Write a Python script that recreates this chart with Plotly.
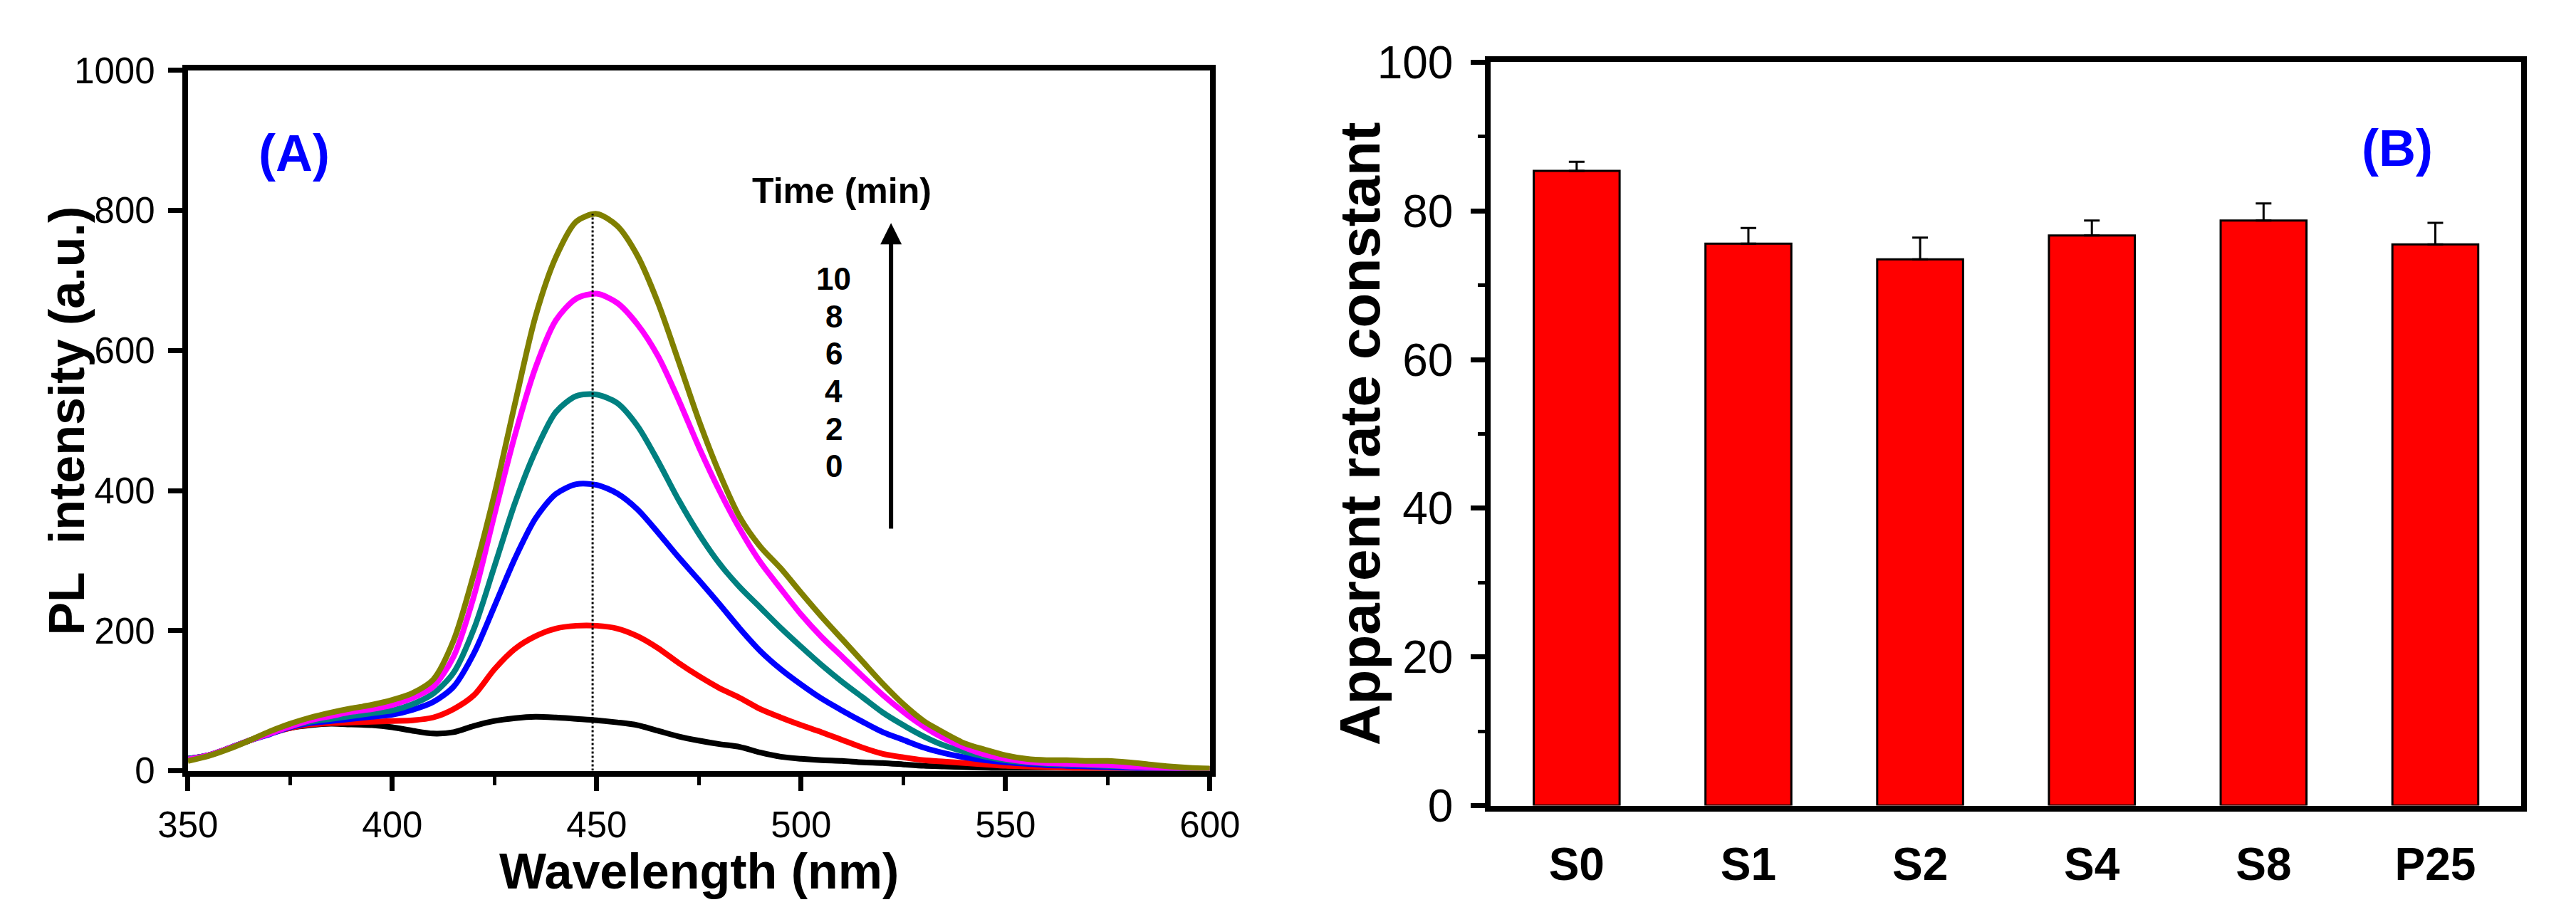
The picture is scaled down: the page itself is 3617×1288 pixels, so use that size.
import plotly.graph_objects as go

# ---- panel A: PL spectra at different irradiation times ----
wavelength = [350, 355, 360, 365, 370, 375, 380, 385, 390, 395, 400, 405, 410, 415, 420,
              425, 430, 435, 440, 445, 450, 455, 460, 465, 470, 475, 480, 485, 490, 495,
              500, 505, 510, 515, 520, 525, 530, 535, 540, 545, 550, 555, 560, 565, 570,
              575, 580, 585, 590, 595, 600]

pl_0min = [17, 22, 32, 43, 54, 61, 65, 67, 66, 65, 62, 57, 53, 55, 64, 71, 75, 77, 76, 74,
           72, 69, 65, 57, 49, 43, 38, 34, 26, 20, 17, 15, 14, 12, 11, 9, 7, 6, 5, 4,
           3, 3, 2, 2, 2, 2, 2, 1, 1, 1, 1]
pl_2min = [17, 22, 32, 43, 53, 61, 66, 68, 69, 70, 71, 72, 76, 88, 108, 145, 174, 192, 203, 207,
           207, 203, 192, 175, 154, 135, 118, 104, 88, 76, 65, 55, 44, 33, 24, 19, 15, 13, 11, 9,
           7, 6, 5, 4, 3, 3, 2, 2, 1, 1, 1]
pl_4min = [17, 22, 32, 43, 52, 62, 68, 71, 74, 77, 80, 87, 98, 120, 168, 235, 303, 360, 395, 409,
           408, 396, 373, 340, 305, 272, 238, 203, 171, 145, 123, 103, 86, 70, 55, 44, 33, 25, 19, 15,
           12, 10, 8, 7, 6, 5, 4, 3, 2, 2, 1]
pl_6min = [17, 22, 32, 43, 53, 63, 70, 74, 78, 82, 86, 95, 110, 140, 203, 292, 382, 456, 512, 535,
           537, 525, 492, 442, 387, 338, 296, 262, 233, 204, 177, 151, 127, 105, 83, 65, 49, 36, 27, 20,
           15, 12, 10, 9, 8, 7, 6, 5, 4, 3, 2]
pl_8min = [16, 22, 32, 43, 53, 63, 72, 78, 84, 88, 94, 104, 120, 163, 250, 366, 479, 575, 643, 674,
           681, 668, 637, 592, 530, 462, 400, 345, 298, 260, 223, 191, 163, 135, 108, 84, 63, 46, 33, 23,
           17, 13, 11, 10, 9, 8, 6, 5, 4, 3, 2]
pl_10min = [14, 21, 31, 43, 56, 67, 76, 83, 89, 94, 101, 111, 130, 186, 282, 395, 524, 648, 733, 784,
            795, 778, 735, 668, 585, 500, 425, 362, 320, 289, 254, 220, 188, 156, 124, 95, 71, 54, 39, 30,
            22, 17, 15, 15, 14, 14, 12, 9, 6, 4, 3]

spectra = [pl_0min, pl_2min, pl_4min, pl_6min, pl_8min, pl_10min]
spectra_colors = ["#000000", "#FF0000", "#0000FF", "#008080", "#FF00FF", "#808000"]
time_labels = ["10", "8", "6", "4", "2", "0"]
peak_wavelength = 449

# ---- panel B: apparent rate constants ----
samples = ["S0", "S1", "S2", "S4", "S8", "P25"]
rate_constant = [85.4, 75.6, 73.5, 76.7, 78.7, 75.5]
rate_error = [1.2, 2.1, 2.9, 2.0, 2.3, 2.9]

W, H = 3617, 1288
FONT = "Liberation Sans, Arial, sans-serif"
NARROW = "Liberation Sans Narrow, Arial Narrow, Liberation Sans, sans-serif"

fig = go.Figure()

for ys, col in zip(spectra, spectra_colors):
    fig.add_trace(go.Scatter(x=wavelength, y=ys, mode="lines",
                             line=dict(color=col, width=8, shape="spline", smoothing=0.8),
                             showlegend=False, xaxis="x", yaxis="y"))

# dotted marker at the emission maximum
fig.add_trace(go.Scatter(x=[peak_wavelength, peak_wavelength], y=[0, max(pl_10min)],
                         mode="lines", line=dict(color="black", width=3, dash="dot"),
                         showlegend=False, xaxis="x", yaxis="y"))

fig.add_trace(go.Bar(x=samples, y=rate_constant, width=0.5,
                     marker=dict(color="#FF0000", line=dict(color="black", width=3)),
                     error_y=dict(type="data", array=rate_error, arrayminus=[0] * len(rate_error),
                                  symmetric=False, color="black", thickness=3, width=11),
                     showlegend=False, xaxis="x2", yaxis="y2"))

axis_common = dict(showline=True, linecolor="black", linewidth=8, mirror=True,
                   showgrid=False, zeroline=False, ticks="outside", ticklen=20,
                   tickwidth=7, tickcolor="black")

fig.update_layout(
    width=W, height=H,
    margin=dict(l=0, r=0, t=0, b=0),
    paper_bgcolor="white", plot_bgcolor="white",
    xaxis=dict(domain=[218 / W, 1688 / W], anchor="y", range=[350, 600], dtick=50,
               tick0=350, tickfont=dict(family=FONT, size=51, color="black"),
               ticklabelstandoff=4,
               minor=dict(dtick=25, ticks="outside", ticklen=12, tickwidth=5, tickcolor="black"),
               **axis_common),
    yaxis=dict(domain=[1 - 1100 / H, 1 - 58 / H], anchor="x", range=[0, 1000], dtick=200,
               tickfont=dict(family=FONT, size=51, color="black"), ticklabelstandoff=8,
               **axis_common),
    xaxis2=dict(domain=[2092 / W, 3574 / W], anchor="y2", range=[-0.5, 5.5],
                type="category", tickfont=dict(family=NARROW, size=64, color="black", weight="bold"),
                showline=True, linecolor="black", linewidth=8, mirror=True, showgrid=False,
                zeroline=False, ticks="", ticklabelstandoff=20),
    yaxis2=dict(domain=[1 - 1152 / H, 1 - 46 / H], anchor="x2", range=[0, 100], dtick=20,
                tickfont=dict(family=FONT, size=64, color="black"), ticklabelstandoff=12,
                minor=dict(dtick=10, ticks="outside", ticklen=10, tickwidth=5, tickcolor="black"),
                **axis_common),
)

annotations = [
    dict(text="PL\u00a0\u00a0intensity (a.u.)", x=44 / W, y=1 - 579 / H, xref="paper", yref="paper",
         textangle=-90, showarrow=False, xanchor="center", yanchor="middle",
         font=dict(family=FONT, size=70, color="black", weight="bold")),
    dict(text="Wavelength (nm)", x=(218 + 1688) / 2 / W, y=1 - 1250 / H, xref="paper", yref="paper",
         showarrow=False, xanchor="center", yanchor="middle",
         font=dict(family=NARROW, size=70, color="black", weight="bold")),
    dict(text="Apparent rate constant", x=1904 / W, y=1 - 599 / H, xref="paper", yref="paper",
         textangle=-90, showarrow=False, xanchor="center", yanchor="middle",
         font=dict(family=FONT, size=80, color="black", weight="bold")),
    dict(text="(A)", x=376, y=882, xref="x", yref="y", showarrow=False,
         font=dict(family=FONT, size=72, color="#0000FF", weight="bold")),
    dict(text="(B)", x=4.78, y=88.5, xref="x2", yref="y2", showarrow=False,
         font=dict(family=FONT, size=72, color="#0000FF", weight="bold")),
    dict(text="Time (min)", x=510, y=828, xref="x", yref="y", showarrow=False,
         font=dict(family=NARROW, size=50, color="black", weight="bold")),
    # arrow showing increasing irradiation time
    dict(text="", x=522, y=782, ax=522, ay=344, xref="x", yref="y", axref="x", ayref="y",
         showarrow=True, arrowhead=2, arrowsize=1.0, arrowwidth=6, arrowcolor="black"),
]
for i, lab in enumerate(time_labels):
    annotations.append(dict(text=lab, x=508, y=702 - i * 53.4, xref="x", yref="y",
                            showarrow=False,
                            font=dict(family=NARROW, size=44, color="black", weight="bold")))
fig.update_layout(annotations=annotations)

fig.write_html("out.html")
